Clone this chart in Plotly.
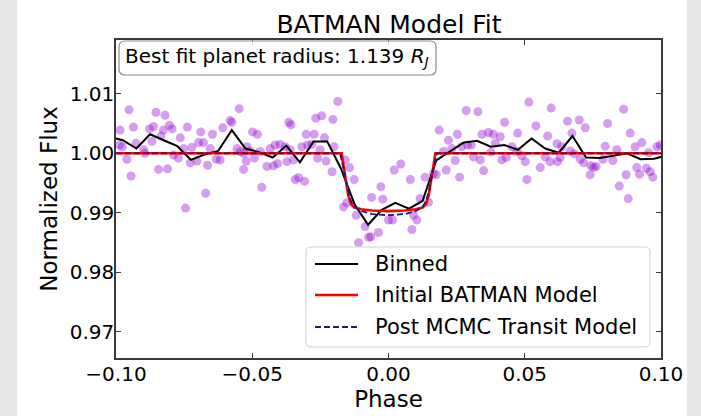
import plotly.graph_objects as go

# ---------------- data ----------------
phase = [
    -0.0952, -0.0853, -0.0820, -0.0985, -0.0936, -0.0877, -0.0862, -0.0826, -0.0804, -0.0794,
    -0.0738, -0.0689, -0.0646, -0.0608, -0.0977, -0.0926, -0.0899, -0.0894, -0.0868, -0.0835,
    -0.0764, -0.0752, -0.0722, -0.0697, -0.0679, -0.0654, -0.0789, -0.0771, -0.0728, -0.0703,
    -0.0664, -0.0632, -0.0618, -0.0960, -0.0844, -0.0811, -0.0945, -0.0671, -0.0745, -0.0987,
    -0.0548, -0.0581, -0.0575, -0.0499, -0.0481, -0.0366, -0.0358, -0.0267, -0.0245, -0.0204,
    -0.0186, -0.0302, -0.0273, -0.0235, -0.0520, -0.0556, -0.0544, -0.0508, -0.0471, -0.0434,
    -0.0416, -0.0398, -0.0379, -0.0361, -0.0318, -0.0297, -0.0281, -0.0251, -0.0200, -0.0532,
    -0.0522, -0.0492, -0.0446, -0.0422, -0.0407, -0.0373, -0.0349, -0.0260, -0.0229, -0.0532,
    -0.0465, -0.0342, -0.0330, -0.0308,
    -0.0207, -0.0159, -0.0143, -0.0126, -0.0165, -0.0153, -0.0118, -0.0086, -0.0073, -0.0065,
    -0.0037, -0.0110, -0.0062, -0.0028, -0.0021, 0.0021, 0.0045, 0.0080, 0.0000, 0.0015,
    0.0092, 0.0104, 0.0086, 0.0116, 0.0134, 0.0147, 0.0165, 0.0175, 0.0186,
    0.0515, 0.0285, 0.0328, 0.0597, 0.0426, 0.0541, 0.0253, 0.0343, 0.0367, 0.0385,
    0.0410, 0.0474, 0.0584, 0.0220, 0.0233, 0.0202, 0.0269, 0.0290, 0.0304, 0.0392,
    0.0453, 0.0471, 0.0489, 0.0376, 0.0312, 0.0337, 0.0245, 0.0416, 0.0432, 0.0502,
    0.0575, 0.0593, 0.0212, 0.0349, 0.0557, 0.0261, 0.0508,
    0.0657, 0.0700, 0.0722, 0.0804, 0.0863, 0.0887, 0.0673, 0.0618, 0.0636, 0.0795,
    0.0838, 0.0905, 0.0930, 0.0985, 0.0997, 0.0667, 0.0682, 0.0630, 0.0620, 0.0704,
    0.0716, 0.0787, 0.0823, 0.0954, 0.0911, 0.0921, 0.0946, 0.0960, 0.0970, 0.0743,
    0.0753, 0.0762, 0.0740, 0.0872, 0.0847, 0.0880,
]
flux = [
    1.0073, 1.0069, 1.0064, 1.0039, 1.0044, 1.0041, 1.0045, 1.0039, 1.0047, 1.0041,
    1.0044, 1.0036, 1.0032, 1.0043, 1.0011, 1.0017, 1.0006, 1.0000, 1.0020, 1.0029,
    1.0026, 1.0008, 1.0010, 1.0018, 1.0018, 1.0008, 0.9997, 0.9992, 0.9984, 0.9987,
    0.9980, 0.9990, 0.9989, 0.9990, 0.9973, 0.9974, 0.9962, 0.9933, 0.9908, 1.0014,
    1.0075, 1.0055, 1.0052, 1.0036, 1.0032, 1.0052, 1.0048, 1.0059, 1.0063, 1.0057,
    1.0087, 1.0032, 1.0032, 1.0026, 1.0011, 1.0008, 1.0003, 1.0004, 1.0003, 1.0008,
    1.0014, 1.0015, 1.0011, 1.0006, 1.0011, 1.0014, 1.0015, 1.0006, 1.0011, 1.0000,
    0.9987, 0.9992, 0.9978, 0.9979, 0.9983, 0.9986, 0.9989, 0.9992, 0.9987, 0.9973,
    0.9943, 0.9956, 0.9959, 0.9953,
    0.9969, 0.9989, 0.9976, 0.9956, 0.9910, 0.9917, 0.9896, 0.9877, 0.9859, 0.9860,
    0.9867, 0.9850, 0.9926, 0.9944, 0.9923, 0.9972, 0.9982, 0.9956, 0.9888, 0.9888,
    0.9896, 0.9888, 0.9872, 0.9924, 0.9960, 0.9918, 0.9966, 0.9964, 1.0039,
    1.0086, 1.0072, 1.0070, 1.0076, 1.0052, 1.0046, 1.0032, 1.0032, 1.0035, 1.0032,
    1.0028, 1.0034, 1.0029, 1.0022, 1.0008, 1.0003, 1.0011, 1.0014, 1.0014, 1.0017,
    1.0011, 1.0003, 0.9996, 1.0002, 0.9994, 0.9989, 0.9988, 0.9989, 0.9993, 0.9986,
    0.9994, 0.9986, 0.9972, 0.9971, 0.9976, 0.9960, 0.9956,
    1.0054, 1.0056, 1.0043, 1.0050, 1.0074, 1.0034, 1.0034, 1.0016, 1.0011, 1.0012,
    1.0006, 1.0011, 1.0018, 1.0011, 1.0014, 1.0004, 0.9999, 0.9993, 0.9986, 0.9990,
    0.9984, 0.9990, 0.9988, 1.0001, 0.9976, 0.9965, 0.9975, 0.9969, 0.9960, 0.9979,
    0.9976, 0.9978, 0.9964, 0.9964, 0.9945, 0.9924,
]

bin_phase = [
    -0.1025, -0.0975, -0.0925, -0.0875, -0.0825, -0.0775, -0.0725, -0.0675, -0.0625, -0.0575,
    -0.0525, -0.0475, -0.0425, -0.0375, -0.0325, -0.0275, -0.0225, -0.0175, -0.0125, -0.0075,
    -0.0025, 0.0025, 0.0075, 0.0125, 0.0175, 0.0225, 0.0275, 0.0325, 0.0375, 0.0425,
    0.0475, 0.0525, 0.0575, 0.0625, 0.0675, 0.0725, 0.0775, 0.0825, 0.0875, 0.0925,
    0.0975, 0.1025,
]
bin_flux = [
    1.0028, 1.0022, 1.0008, 1.0032, 1.0022, 1.0012, 0.9989, 0.9998, 1.0004, 1.0039,
    1.0008, 1.0002, 0.9993, 1.0013, 0.9985, 1.0020, 1.0020, 0.9975, 0.9915, 0.9880,
    0.9905, 0.9917, 0.9907, 0.9920, 0.9988, 1.0003, 1.0018, 1.0021, 1.0011, 1.0014,
    1.0006, 1.0025, 1.0008, 1.0001, 1.0029, 0.9993, 0.9992, 0.9996, 1.0000, 0.9990,
    0.9991, 0.9997,
]

init_phase = [-0.1, -0.0172, -0.0160, -0.0148, -0.0138, -0.0125, -0.0100, -0.0060, 0.0,
              0.0060, 0.0100, 0.0125, 0.0138, 0.0148, 0.0160, 0.0172, 0.1]
init_flux = [1.0, 1.0, 0.9965, 0.9930, 0.9915, 0.9909, 0.9906, 0.9904, 0.9903,
             0.9904, 0.9906, 0.9909, 0.9915, 0.9930, 0.9965, 1.0, 1.0]

mcmc_phase = [-0.1, -0.0178, -0.0165, -0.0150, -0.0138, -0.0125, -0.0100, -0.0060, 0.0,
              0.0060, 0.0100, 0.0125, 0.0138, 0.0150, 0.0165, 0.0178, 0.1]
mcmc_flux = [1.0, 1.0, 0.9975, 0.9940, 0.9920, 0.9910, 0.9903, 0.9898, 0.9896,
             0.9898, 0.9903, 0.9910, 0.9920, 0.9940, 0.9975, 1.0, 1.0]

title_text = "BATMAN Model Fit"
x_label = "Phase"
y_label = "Normalized Flux"
x_ticks = [-0.10, -0.05, 0.00, 0.05, 0.10]
y_ticks = [0.97, 0.98, 0.99, 1.00, 1.01]
legend_labels = ["Binned", "Initial BATMAN Model", "Post MCMC Transit Model"]
radius_text = "Best fit planet radius: 1.139 <i>R</i><sub><i>J</i></sub>"

# ---------------- layout geometry ----------------
W, H = 701, 416
L, R, T, B = 116, 40, 40, 58
PW = W - L - R
PH = H - T - B
FONT = "DejaVu Sans"


def pxx(xp):
    return (xp - L) / PW


def pxy(yp):
    return (H - B - yp) / PH


def rounded_path(x0, y0, x1, y1, r):
    pts = [
        ("M", [(x0 + r, y0)]), ("L", [(x1 - r, y0)]), ("Q", [(x1, y0), (x1, y0 + r)]),
        ("L", [(x1, y1 - r)]), ("Q", [(x1, y1), (x1 - r, y1)]), ("L", [(x0 + r, y1)]),
        ("Q", [(x0, y1), (x0, y1 - r)]), ("L", [(x0, y0 + r)]), ("Q", [(x0, y0), (x0 + r, y0)]),
    ]
    s = ""
    for cmd, ps in pts:
        s += cmd + " ".join(f"{pxx(a):.5f},{pxy(b):.5f}" for a, b in ps) + " "
    return s + "Z"


fig = go.Figure()
fig.add_trace(go.Scatter(x=phase, y=flux, mode="markers",
                         marker=dict(size=9, color="rgba(148,0,211,0.38)", line=dict(width=0)),
                         showlegend=False, cliponaxis=True))
fig.add_trace(go.Scatter(x=bin_phase, y=bin_flux, mode="lines",
                         line=dict(color="black", width=2), showlegend=False))
fig.add_trace(go.Scatter(x=init_phase, y=init_flux, mode="lines",
                         line=dict(color="red", width=2.6), showlegend=False))
fig.add_trace(go.Scatter(x=mcmc_phase, y=mcmc_flux, mode="lines",
                         line=dict(color="#1c1c7a", width=1.8, dash="6px,3px"), showlegend=False))

shapes = []
# light grey side strips of the page
shapes.append(dict(type="rect", xref="paper", yref="paper", layer="below",
                   x0=pxx(0), x1=pxx(17), y0=pxy(H), y1=pxy(0),
                   fillcolor="#e8e8e8", line=dict(width=0)))
shapes.append(dict(type="rect", xref="paper", yref="paper", layer="below",
                   x0=pxx(687), x1=pxx(W), y0=pxy(H), y1=pxy(0),
                   fillcolor="#e8e8e8", line=dict(width=0)))
# info box
shapes.append(dict(type="path", xref="paper", yref="paper",
                   path=rounded_path(119, 41, 436, 75, 6),
                   fillcolor="rgba(255,255,255,0.85)", line=dict(color="#8c8c8c", width=1.2)))
# legend box
shapes.append(dict(type="path", xref="paper", yref="paper",
                   path=rounded_path(306, 247, 650, 347, 5),
                   fillcolor="rgba(255,255,255,0.85)", line=dict(color="#d0d0d0", width=1)))
legend_styles = [dict(color="black", width=2),
                 dict(color="red", width=2.6),
                 dict(color="#1c1c7a", width=1.8, dash="6px,3px")]
rows = [264, 295, 327]
annotations = []
for lab, st, ry in zip(legend_labels, legend_styles, rows):
    shapes.append(dict(type="line", xref="paper", yref="paper",
                       x0=pxx(315), x1=pxx(358), y0=pxy(ry), y1=pxy(ry), line=st))
    annotations.append(dict(text=lab, xref="paper", yref="paper", x=pxx(373), y=pxy(ry),
                            xanchor="left", yanchor="middle", showarrow=False,
                            font=dict(family=FONT, size=21, color="black")))

annotations.append(dict(text=radius_text, xref="paper", yref="paper", x=pxx(123), y=pxy(57),
                        xanchor="left", yanchor="middle", showarrow=False,
                        font=dict(family=FONT, size=20, color="black")))

axis_common = dict(showgrid=False, zeroline=False, showline=True, linecolor="#3a3a3a",
                   linewidth=1.5, mirror="ticks", ticks="inside", ticklen=5, tickwidth=1.2,
                   tickcolor="#3a3a3a", tickfont=dict(family=FONT, size=20, color="black"),
                   tickformat=".2f", automargin=False)

fig.update_layout(
    width=W, height=H, margin=dict(l=L, r=R, t=T, b=B, pad=0, autoexpand=False),
    paper_bgcolor="white", plot_bgcolor="white",
    title=dict(text=title_text, x=pxx(389), xanchor="center", xref="paper",
               y=1 - 24 / H, yanchor="middle", yref="container",
               font=dict(family=FONT, size=25, color="black")),
    xaxis=dict(range=[-0.1, 0.1], tickvals=x_ticks, ticklabelstandoff=-3,
               title=dict(text=x_label, font=dict(family=FONT, size=23, color="black"), standoff=2),
               **axis_common),
    yaxis=dict(range=[0.96563, 1.01903], tickvals=y_ticks, ticklabelstandoff=-4,
               title=dict(text=y_label, font=dict(family=FONT, size=23, color="black"), standoff=6),
               **axis_common),
    shapes=shapes, annotations=annotations, showlegend=False,
    font=dict(family=FONT),
)

fig.write_html("out.html", config={"displayModeBar": False},
               post_script="document.body.style.margin='0px';document.body.style.overflow='hidden';")
